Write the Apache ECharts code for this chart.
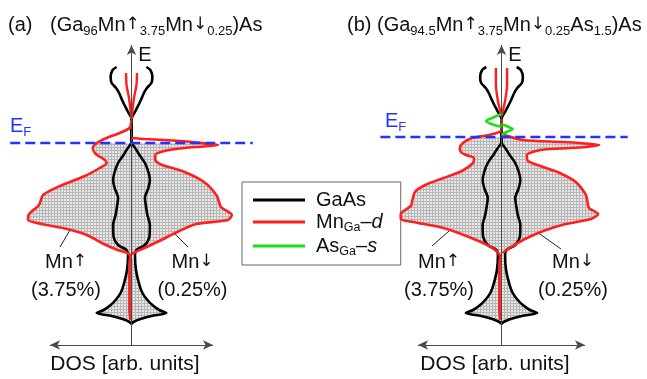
<!DOCTYPE html>
<html>
<head>
<meta charset="utf-8">
<script src="https://cdn.jsdelivr.net/npm/echarts@6/dist/echarts.min.js"></script>
<style>
  html, body { margin: 0; padding: 0; background: #fff; }
  #chart { width: 647px; height: 379px; }
</style>
</head>
<body>
<div id="chart"></div>
<script>
// Density of states of (Ga,Mn)As: spin-up drawn to the left, spin-down to the right.
// Every curve is a list of [DOS magnitude (arb. units), energy (arb. units)].

// Fermi levels of the two compositions
const fermiA = 0;
const fermiB = 0.15;

// Host GaAs DOS (identical in both panels, mirrored for the two spins)
const gaasConduction = [[1.5,1.9],[1.9,1.825],[2.1,1.65],[2.0,1.5],[1.55,1.375],[1.25,1.25],[0.9,1.05],[0.4,0.8],[0,0.6],[0,0]];
const gaasValence = [[0,0],[0.5,-0.175],[0.8,-0.3],[1.35,-0.5],[1.7,-0.725],[1.85,-0.925],[1.7,-1.125],[1.35,-1.375],
  [1.45,-1.575],[1.6,-1.8],[1.85,-2.05],[1.8,-2.35],[1.35,-2.55],[0.5,-2.675],[0.35,-2.8],[0.45,-3.175],[0.8,-3.55],
  [1.1,-3.75],[1.6,-3.925],[2.1,-4.05],[2.8,-4.175],[3.5,-4.25],[2.0,-4.325],[0.9,-4.4],[0.2,-4.475],[0,-4.525]];

// Mn(Ga) d states, panel (a)
const mnConductionA = [[0.55,1.75],[0.5,1.45],[0.25,1.125],[0.1,0.825],[0,0.6]];
const mnUpA = [[0,0.575],[0.2,0.375],[1.2,0.25],[2.5,0.125],[3.5,0],[3.9,-0.125],[3.6,-0.275],[2.8,-0.4],[2.5,-0.5],
  [3.2,-0.625],[4.7,-0.825],[7.2,-1.075],[8.9,-1.3],[9.3,-1.55],[10.4,-1.825],[10.4,-1.925],[9.0,-2.025],[6.5,-2.15],
  [4.5,-2.3],[3.0,-2.5],[1.4,-2.675],[0.4,-2.75],[0.1,-2.825]];
const mnDownA = [[0,0.125],[1.3,0.1],[3.3,0.075],[6.1,0.025],[7.8,-0.025],[8.7,-0.05],[7.3,-0.0875],[5.3,-0.125],
  [3.3,-0.2],[2.4,-0.3],[2.4,-0.425],[3.1,-0.55],[5.1,-0.7],[7.3,-0.975],[8.6,-1.325],[9.0,-1.6],[10.1,-1.8],
  [9.7,-1.925],[6.5,-2.025],[4.8,-2.2],[2.8,-2.45],[1.3,-2.625],[0.4,-2.725],[0,-2.775]];

// Mn(Ga) d states, panel (b)
const mnConductionB = [[0.55,1.875],[0.55,1.45],[0.35,1.05],[0.15,0.825],[0,0.675]];
const mnUpB = [[0,0.6],[0,0.325],[1.2,0.2],[2.9,0.125],[3.8,0],[4.1,-0.125],[4.0,-0.225],[3.5,-0.3],[2.7,-0.375],
  [2.8,-0.5],[3.9,-0.7],[5.7,-0.875],[7.5,-1.05],[8.5,-1.225],[8.8,-1.475],[8.9,-1.575],[9.9,-1.775],[9.9,-1.9],
  [8.7,-1.975],[5.7,-2.125],[3.2,-2.35],[1.2,-2.575],[0.5,-2.7],[0.1,-2.825]];
const mnDownB = [[0,0.225],[2.1,0.075],[6.1,0.025],[8.8,-0.025],[9.6,-0.05],[8.3,-0.1],[5.8,-0.1375],[3.8,-0.175],
  [2.5,-0.3],[2.6,-0.45],[3.8,-0.575],[5.5,-0.725],[7.3,-0.975],[8.3,-1.3],[8.6,-1.625],[9.5,-1.775],[8.8,-1.9],
  [6.3,-2.025],[4.1,-2.2],[2.1,-2.425],[0.8,-2.625],[0.1,-2.75]];

// Mn d weight inside the lower GaAs band (spin-up side)
const mnLowBand = [[0.1,-2.775],[0.2,-3.05],[0.2,-3.675],[0.2,-4.175],[0.1,-4.425]];

// As(Ga) s states, panel (b)
const asUpB = [[0,0.725],[0.7,0.65],[1.5,0.55],[1.0,0.475],[0,0.4]];
const asDownB = [[0,0.475],[0.7,0.4],[1.1,0.35],[0.5,0.275],[0,0.2]];

// ---------------------------------------------------------------------------
const FONT = '"Liberation Sans", Arial, Helvetica, sans-serif';
const ARROW_FONT = '"DejaVu Sans", sans-serif';
const RED = '#ff1f1f', BLACK = '#000000', GREEN = '#19e019', BLUE = '#2233ff';

// energy window of the drawn axes and half-width of the DOS arrow
const eBottom = -5.05, eTop = 2.45, dosArrow = 8.2;

// fine gray dot pattern for the occupied total DOS
function dotPattern() {
  const c = document.createElement('canvas');
  c.width = 3; c.height = 3;
  const g = c.getContext('2d');
  g.fillStyle = '#e8e8e8'; g.fillRect(0, 0, 3, 3);
  g.fillStyle = '#b6b6b6'; g.fillRect(0, 0, 3, 1); g.fillRect(0, 0, 1, 3);
  return { image: c, repeat: 'repeat' };
}
const pattern = dotPattern();

// keep only the part of a closed outline that lies at or below the Fermi level
function clipBelow(poly, ef) {
  const out = [];
  const cross = (p, q) => {
    const t = (ef - p[1]) / (q[1] - p[1]);
    return [p[0] + t * (q[0] - p[0]), ef];
  };
  for (let i = 0; i < poly.length; i++) {
    const cur = poly[i], prev = poly[(i - 1 + poly.length) % poly.length];
    const cIn = cur[1] <= ef, pIn = prev[1] <= ef;
    if (cIn) { if (!pIn) out.push(cross(prev, cur)); out.push(cur); }
    else if (pIn) out.push(cross(prev, cur));
  }
  return out;
}

function occupiedOutline(up, down, ef) {
  const lastE = up[up.length - 1][1];
  const low = gaasValence.filter(p => p[1] < lastE);
  const poly = [].concat(
    up.map(p => [-p[0], p[1]]),
    low.map(p => [-p[0], p[1]]),
    low.slice().reverse().map(p => [p[0], p[1]]),
    down.slice().reverse().map(p => [p[0], p[1]])
  );
  return clipBelow(poly, ef);
}

function curve(name, gi, pts, sign, color, width, z) {
  return {
    type: 'line', name, xAxisIndex: gi, yAxisIndex: gi,
    data: pts.map(p => [sign * p[0], p[1]]),
    showSymbol: false, symbol: 'none', smooth: 0.25, clip: false, silent: true,
    lineStyle: { color, width }, itemStyle: { color }, z
  };
}

const panels = [
  { ef: fermiA, cond: mnConductionA, up: mnUpA, down: mnDownA, asUp: null, asDown: null, efFrom: -12.2, efTo: 12.2 },
  { ef: fermiB, cond: mnConductionB, up: mnUpB, down: mnDownB, asUp: asUpB, asDown: asDownB, efFrom: -11.9, efTo: 12.4 }
];

const series = [];
panels.forEach((p, gi) => {
  const poly = occupiedOutline(p.up, p.down, p.ef);
  series.push({
    type: 'custom', name: 'occupied', xAxisIndex: gi, yAxisIndex: gi, data: [[0, 0]],
    clip: false, silent: true, z: 1,
    renderItem: (params, api) => ({
      type: 'polygon',
      shape: { points: poly.map(q => api.coord(q)) },
      style: { fill: pattern, stroke: null }
    })
  });
  // energy axis (upward arrow) and DOS axis (double arrow)
  series.push({
    type: 'line', name: 'axes', xAxisIndex: gi, yAxisIndex: gi, data: [[0, eBottom]],
    showSymbol: false, symbol: 'none', silent: true, z: 2, lineStyle: { width: 0 },
    markLine: {
      silent: true, animation: false, label: { show: false },
      lineStyle: { type: 'solid', color: '#4a4a4a', width: 1 },
      emphasis: { disabled: true },
      data: [
        [{ coord: [0, eBottom], symbol: 'none' }, { coord: [0, eTop], symbol: 'arrow', symbolSize: [7, 10] }],
        [{ coord: [-dosArrow, eBottom], symbol: 'arrow', symbolSize: [7, 10] },
         { coord: [dosArrow, eBottom], symbol: 'arrow', symbolSize: [7, 10] }]
      ]
    }
  });
  [-1, 1].forEach(s => {
    series.push(curve('GaAs', gi, gaasConduction, s, BLACK, 2.6, 3));
    series.push(curve('GaAs', gi, gaasValence, s, BLACK, 2.6, 3));
    series.push(curve('MnGa-d', gi, p.cond, s, RED, 2.4, 4));
  });
  series.push(curve('MnGa-d', gi, p.up, -1, RED, 2.6, 4));
  series.push(curve('MnGa-d', gi, p.down, 1, RED, 2.6, 4));
  series.push(curve('MnGa-d', gi, mnLowBand, -1, RED, 2.8, 4));
  if (p.asUp) {
    series.push(curve('AsGa-s', gi, p.asUp, -1, GREEN, 2.6, 5));
    series.push(curve('AsGa-s', gi, p.asDown, 1, GREEN, 2.6, 5));
  }
  series.push({
    type: 'line', name: 'EF', xAxisIndex: gi, yAxisIndex: gi,
    data: [[p.efFrom, p.ef], [p.efTo, p.ef]],
    showSymbol: false, symbol: 'none', clip: false, silent: true, z: 6,
    lineStyle: { color: BLUE, width: 2.5, type: [10, 5] }
  });
});

const hidden = { axisLine: { show: false }, axisTick: { show: false }, axisLabel: { show: false }, splitLine: { show: false } };
const xAxes = [
  Object.assign({ type: 'value', gridIndex: 0, min: -13.23, max: 13.23 }, hidden),
  Object.assign({ type: 'value', gridIndex: 1, min: -12.92, max: 12.92 }, hidden)
];
const yAxes = [0, 1].map(i => Object.assign({ type: 'value', gridIndex: i, min: -5.3, max: 2.7 }, hidden));

// text helpers
function tokens(color) {
  const c = color || '#111';
  return {
    m: { fontSize: 20, lineHeight: 26, fontFamily: FONT, fill: c },
    s: { fontSize: 13, lineHeight: 13, verticalAlign: 'bottom', fontFamily: FONT, fill: c },
    a: { fontSize: 17, lineHeight: 26, fontFamily: ARROW_FONT, fill: c }
  };
}
function richText(x, y, text, color) {
  return {
    type: 'text', x, y, silent: true,
    style: { text, fill: color || '#111', fontFamily: FONT, fontSize: 20, lineHeight: 26, rich: tokens(color) }
  };
}
function centered(x, y, text, size, lh) {
  return {
    type: 'text', x, y, silent: true,
    style: { text, fill: '#111', fontFamily: FONT, fontSize: size, lineHeight: lh || size,
      align: 'center', verticalAlign: 'middle',
      rich: {
        m: { fontSize: size, lineHeight: lh || size, fontFamily: FONT, fill: '#111' },
        a: { fontSize: 17, lineHeight: lh || size, fontFamily: ARROW_FONT, fill: '#111' }
      } }
  };
}
function leader(x1, y1, x2, y2) {
  return { type: 'line', silent: true, shape: { x1, y1, x2, y2 }, style: { stroke: '#222', lineWidth: 1 } };
}

const graphic = [
  richText(8, 12, '{m|(a)}'),
  richText(50, 12, '{m|(Ga}{s|96}{m|Mn}{a|↑}{s|3.75}{m|Mn}{a|↓}{s|0.25}{m|)As}'),
  richText(347, 12, '{m|(b)}'),
  richText(377, 12, '{m|(Ga}{s|94.5}{m|Mn}{a|↑}{s|3.75}{m|Mn}{a|↓}{s|0.25}{m|As}{s|1.5}{m|)As}'),
  richText(10, 113, '{m|E}{s|F}', BLUE),
  richText(385, 108, '{m|E}{s|F}', BLUE),
  centered(145, 55, 'E', 20), centered(515, 55, 'E', 20),
  centered(66, 276, '{m|Mn}{a|↑}\n{m|(3.75%)}', 20, 28),
  centered(192.5, 276, '{m|Mn}{a|↓}\n{m|(0.25%)}', 20, 28),
  centered(439, 276, '{m|Mn}{a|↑}\n{m|(3.75%)}', 20, 28),
  centered(573, 276, '{m|Mn}{a|↓}\n{m|(0.25%)}', 20, 28),
  leader(70, 230, 60, 247), leader(173, 232, 188, 247),
  leader(449, 231, 432, 246), leader(537, 232, 561, 249),
  centered(125, 364, 'DOS [arb. units]', 21),
  centered(495, 364, 'DOS [arb. units]', 21)
];

const legendNames = {
  'GaAs': '{g|}{m|GaAs}',
  'MnGa-d': '{g|}{m|Mn}{s|Ga}{m|–}{i|d}',
  'AsGa-s': '{g|}{m|As}{s|Ga}{m|–}{i|s}'
};

const chart = echarts.init(document.getElementById('chart'), null, { renderer: 'canvas' });
chart.setOption({
  animation: false,
  backgroundColor: '#ffffff',
  grid: [
    { left: 0, top: 35, width: 263, height: 320 },
    { left: 370, top: 35, width: 263, height: 320 }
  ],
  xAxis: xAxes,
  yAxis: yAxes,
  legend: {
    data: ['GaAs', 'MnGa-d', 'AsGa-s'],
    orient: 'vertical', left: 242, top: 182,
    icon: 'rect', itemWidth: 52, itemHeight: 3, itemGap: 2,
    padding: [8, 18, 7, 11], borderColor: '#666', borderWidth: 1, borderRadius: 0,
    selectedMode: false,
    formatter: name => legendNames[name],
    textStyle: {
      color: '#111', fontFamily: FONT, fontSize: 20,
      rich: {
        g: { width: 6 },
        m: { fontSize: 20, lineHeight: 24, fontFamily: FONT, color: '#111' },
        s: { fontSize: 12.5, lineHeight: 12, verticalAlign: 'bottom', fontFamily: FONT, color: '#111' },
        i: { fontSize: 20, lineHeight: 24, fontStyle: 'italic', fontFamily: FONT, color: '#111' }
      }
    }
  },
  graphic,
  series
});
</script>
</body>
</html>
